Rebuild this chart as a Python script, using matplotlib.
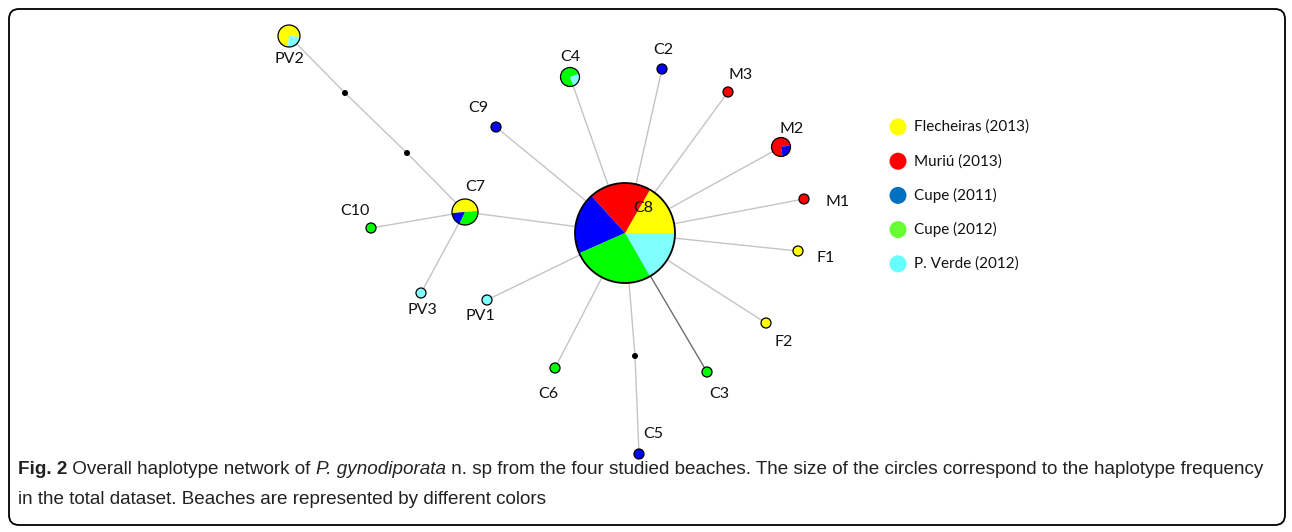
import matplotlib
matplotlib.use("Agg")
import matplotlib.pyplot as plt
from matplotlib.patches import Circle, FancyBboxPatch

W, H = 1292, 532

# Beaches (legend) and colours
beaches = ["Flecheiras (2013)", "Muriú (2013)", "Cupe (2011)", "Cupe (2012)", "P. Verde (2012)"]
legend_colors = ["#FFFF00", "#FF0000", "#0070C0", "#66FF33", "#66FFFF"]
pie_colors = ["#FFFF00", "#FF0000", "#0000FF", "#00FF00", "#80FFFF"]

# Haplotype counts per beach (Flecheiras, Muriú, Cupe 2011, Cupe 2012, P. Verde)
haplotypes = ["C8", "C7", "PV2", "C4", "M2", "C2", "M3", "C9", "M1", "F1", "F2",
              "C3", "C5", "C6", "PV1", "PV3", "C10"]
counts = {
    "C8": [5, 6, 6, 8, 5],
    "C7": [3, 0, 1, 2, 0],
    "PV2": [3, 0, 0, 0, 1],
    "C4": [0, 0, 0, 3, 1],
    "M2": [0, 3, 1, 0, 0],
    "C2": [0, 0, 1, 0, 0],
    "M3": [0, 1, 0, 0, 0],
    "C9": [0, 0, 1, 0, 0],
    "M1": [0, 1, 0, 0, 0],
    "F1": [1, 0, 0, 0, 0],
    "F2": [1, 0, 0, 0, 0],
    "C3": [0, 0, 0, 1, 0],
    "C5": [0, 0, 1, 0, 0],
    "C6": [0, 0, 0, 1, 0],
    "PV1": [0, 0, 0, 0, 1],
    "PV3": [0, 0, 0, 0, 1],
    "C10": [0, 0, 0, 1, 0],
}
# Median vectors and network links
medians = ["mv1", "mv2", "mv3"]
links = [("PV2", "mv1"), ("mv1", "mv2"), ("mv2", "C7"), ("C7", "C8"), ("C7", "C10"),
         ("C7", "PV3"), ("C8", "C4"), ("C8", "C2"), ("C8", "M3"), ("C8", "C9"),
         ("C8", "M2"), ("C8", "M1"), ("C8", "F1"), ("C8", "F2"), ("C8", "C3"),
         ("C8", "mv3"), ("mv3", "C5"), ("C8", "C6"), ("C8", "PV1")]

# Layout (pixel positions from top-left): x, y, radius, start angle
layout = {
    "C8": (625, 233, 50, 0), "C7": (465, 212, 13, 5), "PV2": (289, 36, 11, -5),
    "C4": (570, 77, 9.5, 20), "M2": (781, 147, 9.5, 10), "C2": (662, 69, 5, 0),
    "M3": (728, 92, 5, 0), "C9": (496, 127, 5, 0), "M1": (804, 199, 5, 0),
    "F1": (798, 251, 5, 0), "F2": (766, 323, 5, 0), "C3": (707, 372, 5, 0),
    "C5": (639, 454, 5, 0), "C6": (555, 368, 5, 0), "PV1": (487, 300, 5, 0),
    "PV3": (421, 293, 5, 0), "C10": (371, 228, 5, 0),
    "mv1": (345, 93, 3, 0), "mv2": (407, 153, 3, 0), "mv3": (635, 356, 3, 0),
}
label_pos = {
    "C8": (643, 208), "C7": (475, 187), "PV2": (289, 59), "C4": (570, 57),
    "M2": (792, 129), "C2": (663, 50), "M3": (741, 75), "C9": (478, 108),
    "M1": (838, 202), "F1": (826, 258), "F2": (784, 342), "C3": (719, 394),
    "C5": (653, 434), "C6": (548, 394), "PV1": (480, 316), "PV3": (422, 310),
    "C10": (355, 211),
}

lab_font = "Lato"
cap_font = ["Liberation Sans", "DejaVu Sans"]

fig = plt.figure(figsize=(W / 100, H / 100), dpi=100)
ax = fig.add_axes([0, 0, 1, 1])

def P(x, y):
    return x, H - y

# links
for a, b in links:
    xa, ya = P(*layout[a][:2])
    xb, yb = P(*layout[b][:2])
    col = "#6E6E6E" if (a, b) == ("C8", "C3") else "#C4C4C4"
    ax.plot([xa, xb], [ya, yb], color=col, lw=1.0, zorder=1)

# haplotype pies
for h in haplotypes:
    x, y, r, st = layout[h]
    c = counts[h]
    vals = [v for v in c if v > 0]
    cols = [pie_colors[i] for i, v in enumerate(c) if v > 0]
    ax.pie(vals, colors=cols, radius=r, center=P(x, y), startangle=st,
           counterclock=True, frame=True,
           wedgeprops=dict(linewidth=0, edgecolor="none", zorder=3))
    ax.add_patch(Circle(P(x, y), r, facecolor="none", edgecolor="black",
                        lw=1.3 if r > 20 else 0.9, zorder=4))
    lx, ly = label_pos[h]
    ax.text(*P(lx, ly), h, ha="center", va="center", fontsize=11.5,
            family=lab_font, color="#111111", zorder=5)

# median vectors
for m in medians:
    x, y, r, _ = layout[m]
    ax.add_patch(Circle(P(x, y), r, facecolor="black", edgecolor="none", zorder=4))

# legend
for i, (name, col) in enumerate(zip(beaches, legend_colors)):
    y = 127 + i * 34.2
    ax.add_patch(Circle(P(898, y), 8.5, facecolor=col, edgecolor="none", zorder=4))
    ax.text(*P(914, y), name, ha="left", va="center", fontsize=11,
            family=lab_font, color="#111111")

# frame
ax.add_patch(FancyBboxPatch((9, H - 525), 1276, 516,
                            boxstyle="round,pad=0,rounding_size=10",
                            facecolor="none", edgecolor="black", lw=1.3,
                            zorder=0))

ax.set_xlim(0, W)
ax.set_ylim(0, H)
ax.set_aspect("auto")
ax.axis("off")

# caption with bold and italic pieces
fig.canvas.draw()
renderer = fig.canvas.get_renderer()
line1 = [("Fig. 2", "bold", "normal"),
         (" Overall haplotype network of ", "normal", "normal"),
         ("P. gynodiporata", "normal", "italic"),
         (" n. sp from the four studied beaches. The size of the circles correspond to the haplotype frequency",
          "normal", "normal")]
line2 = [("in the total dataset. Beaches are represented by different colors", "normal", "normal")]


def put_line(pieces, ypx, size):
    x = 18
    arts = []
    for s, wgt, sty in pieces:
        t = ax.text(x, H - ypx, s, ha="left", va="center", fontsize=size,
                    family=cap_font, weight=wgt, style=sty, color="#222222")
        x = t.get_window_extent(renderer).x1
        arts.append(t)
    return arts, x - 18


# fit first caption line to the reference width
arts, wid = put_line(line1, 470, 13)
for t in arts:
    t.remove()
size = 13 * 1244 / wid
put_line(line1, 470, size)
put_line(line2, 500, size)

fig.savefig("out.png", dpi=100)
